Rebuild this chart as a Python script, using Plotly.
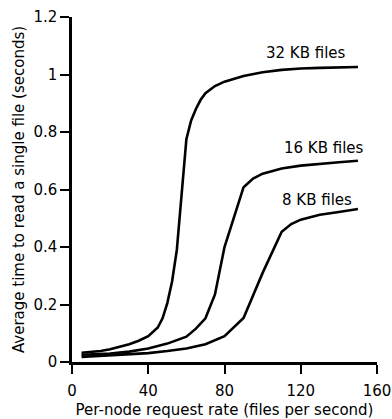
import plotly.graph_objects as go

# Data
x32 = [5, 10, 15, 20, 25, 30, 35, 40, 45, 47.5, 50, 52.5, 55, 60, 62.5, 65, 67.5, 70, 75, 80, 90, 100, 110, 120, 130, 140, 150]
y32 = [0.032, 0.034, 0.038, 0.044, 0.052, 0.062, 0.074, 0.09, 0.12, 0.152, 0.205, 0.28, 0.39, 0.775, 0.84, 0.88, 0.912, 0.935, 0.96, 0.975, 0.995, 1.008, 1.016, 1.021, 1.023, 1.025, 1.026]

x16 = [5, 10, 20, 30, 35, 40, 50, 60, 65, 70, 75, 80, 90, 95, 100, 110, 120, 130, 140, 150]
y16 = [0.025, 0.026, 0.029, 0.036, 0.041, 0.047, 0.064, 0.088, 0.116, 0.152, 0.235, 0.40, 0.608, 0.638, 0.655, 0.673, 0.683, 0.69, 0.695, 0.70]

x8 = [5, 10, 20, 30, 40, 50, 60, 70, 80, 90, 100, 110, 115, 120, 130, 140, 150]
y8 = [0.018, 0.02, 0.023, 0.026, 0.031, 0.038, 0.047, 0.062, 0.09, 0.153, 0.31, 0.453, 0.48, 0.495, 0.512, 0.522, 0.532]

labels = ["32 KB files", "16 KB files", "8 KB files"]
label_x = [122.7, 132.1, 128.4]
label_y = [1.074, 0.744, 0.565]

x_ticks = [0, 40, 80, 120, 160]
y_ticks = [0, 0.2, 0.4, 0.6, 0.8, 1, 1.2]
y_ticktext = ["0", "0.2", "0.4", "0.6", "0.8", "1", "1.2"]

FONT = "DejaVu Sans"
fig = go.Figure()
for xs, ys in [(x32, y32), (x16, y16), (x8, y8)]:
    fig.add_trace(go.Scatter(x=xs, y=ys, mode="lines",
                             line=dict(color="black", width=2.6),
                             showlegend=False, hoverinfo="skip"))

for t, lx, ly in zip(labels, label_x, label_y):
    fig.add_annotation(x=lx, y=ly, text=t, showarrow=False,
                       font=dict(family=FONT, size=15, color="black"),
                       xanchor="center", yanchor="middle")

fig.update_layout(
    width=392, height=419,
    margin=dict(l=72, r=15, t=17, b=57, autoexpand=False),
    paper_bgcolor="white", plot_bgcolor="white",
    font=dict(family=FONT, size=15, color="black"),
    xaxis=dict(range=[0, 160], tickvals=x_ticks, ticks="outside", ticklen=9,
               tickwidth=2, tickcolor="black", showline=True, linecolor="black",
               linewidth=2.5, showgrid=False, zeroline=False, ticklabelstandoff=4,
               automargin=False,
               title=dict(text="Per-node request rate (files per second)",
                          font=dict(family=FONT, size=15), standoff=8)),
    yaxis=dict(range=[0, 1.2], tickvals=y_ticks, ticktext=y_ticktext,
               ticks="outside", ticklen=9, tickwidth=2, tickcolor="black",
               showline=True, linecolor="black", linewidth=2.5,
               showgrid=False, zeroline=False, automargin=False,
               title=dict(text="Average time to read a single file (seconds)",
                          font=dict(family=FONT, size=15), standoff=6)),
)

fig.write_html("out.html")
